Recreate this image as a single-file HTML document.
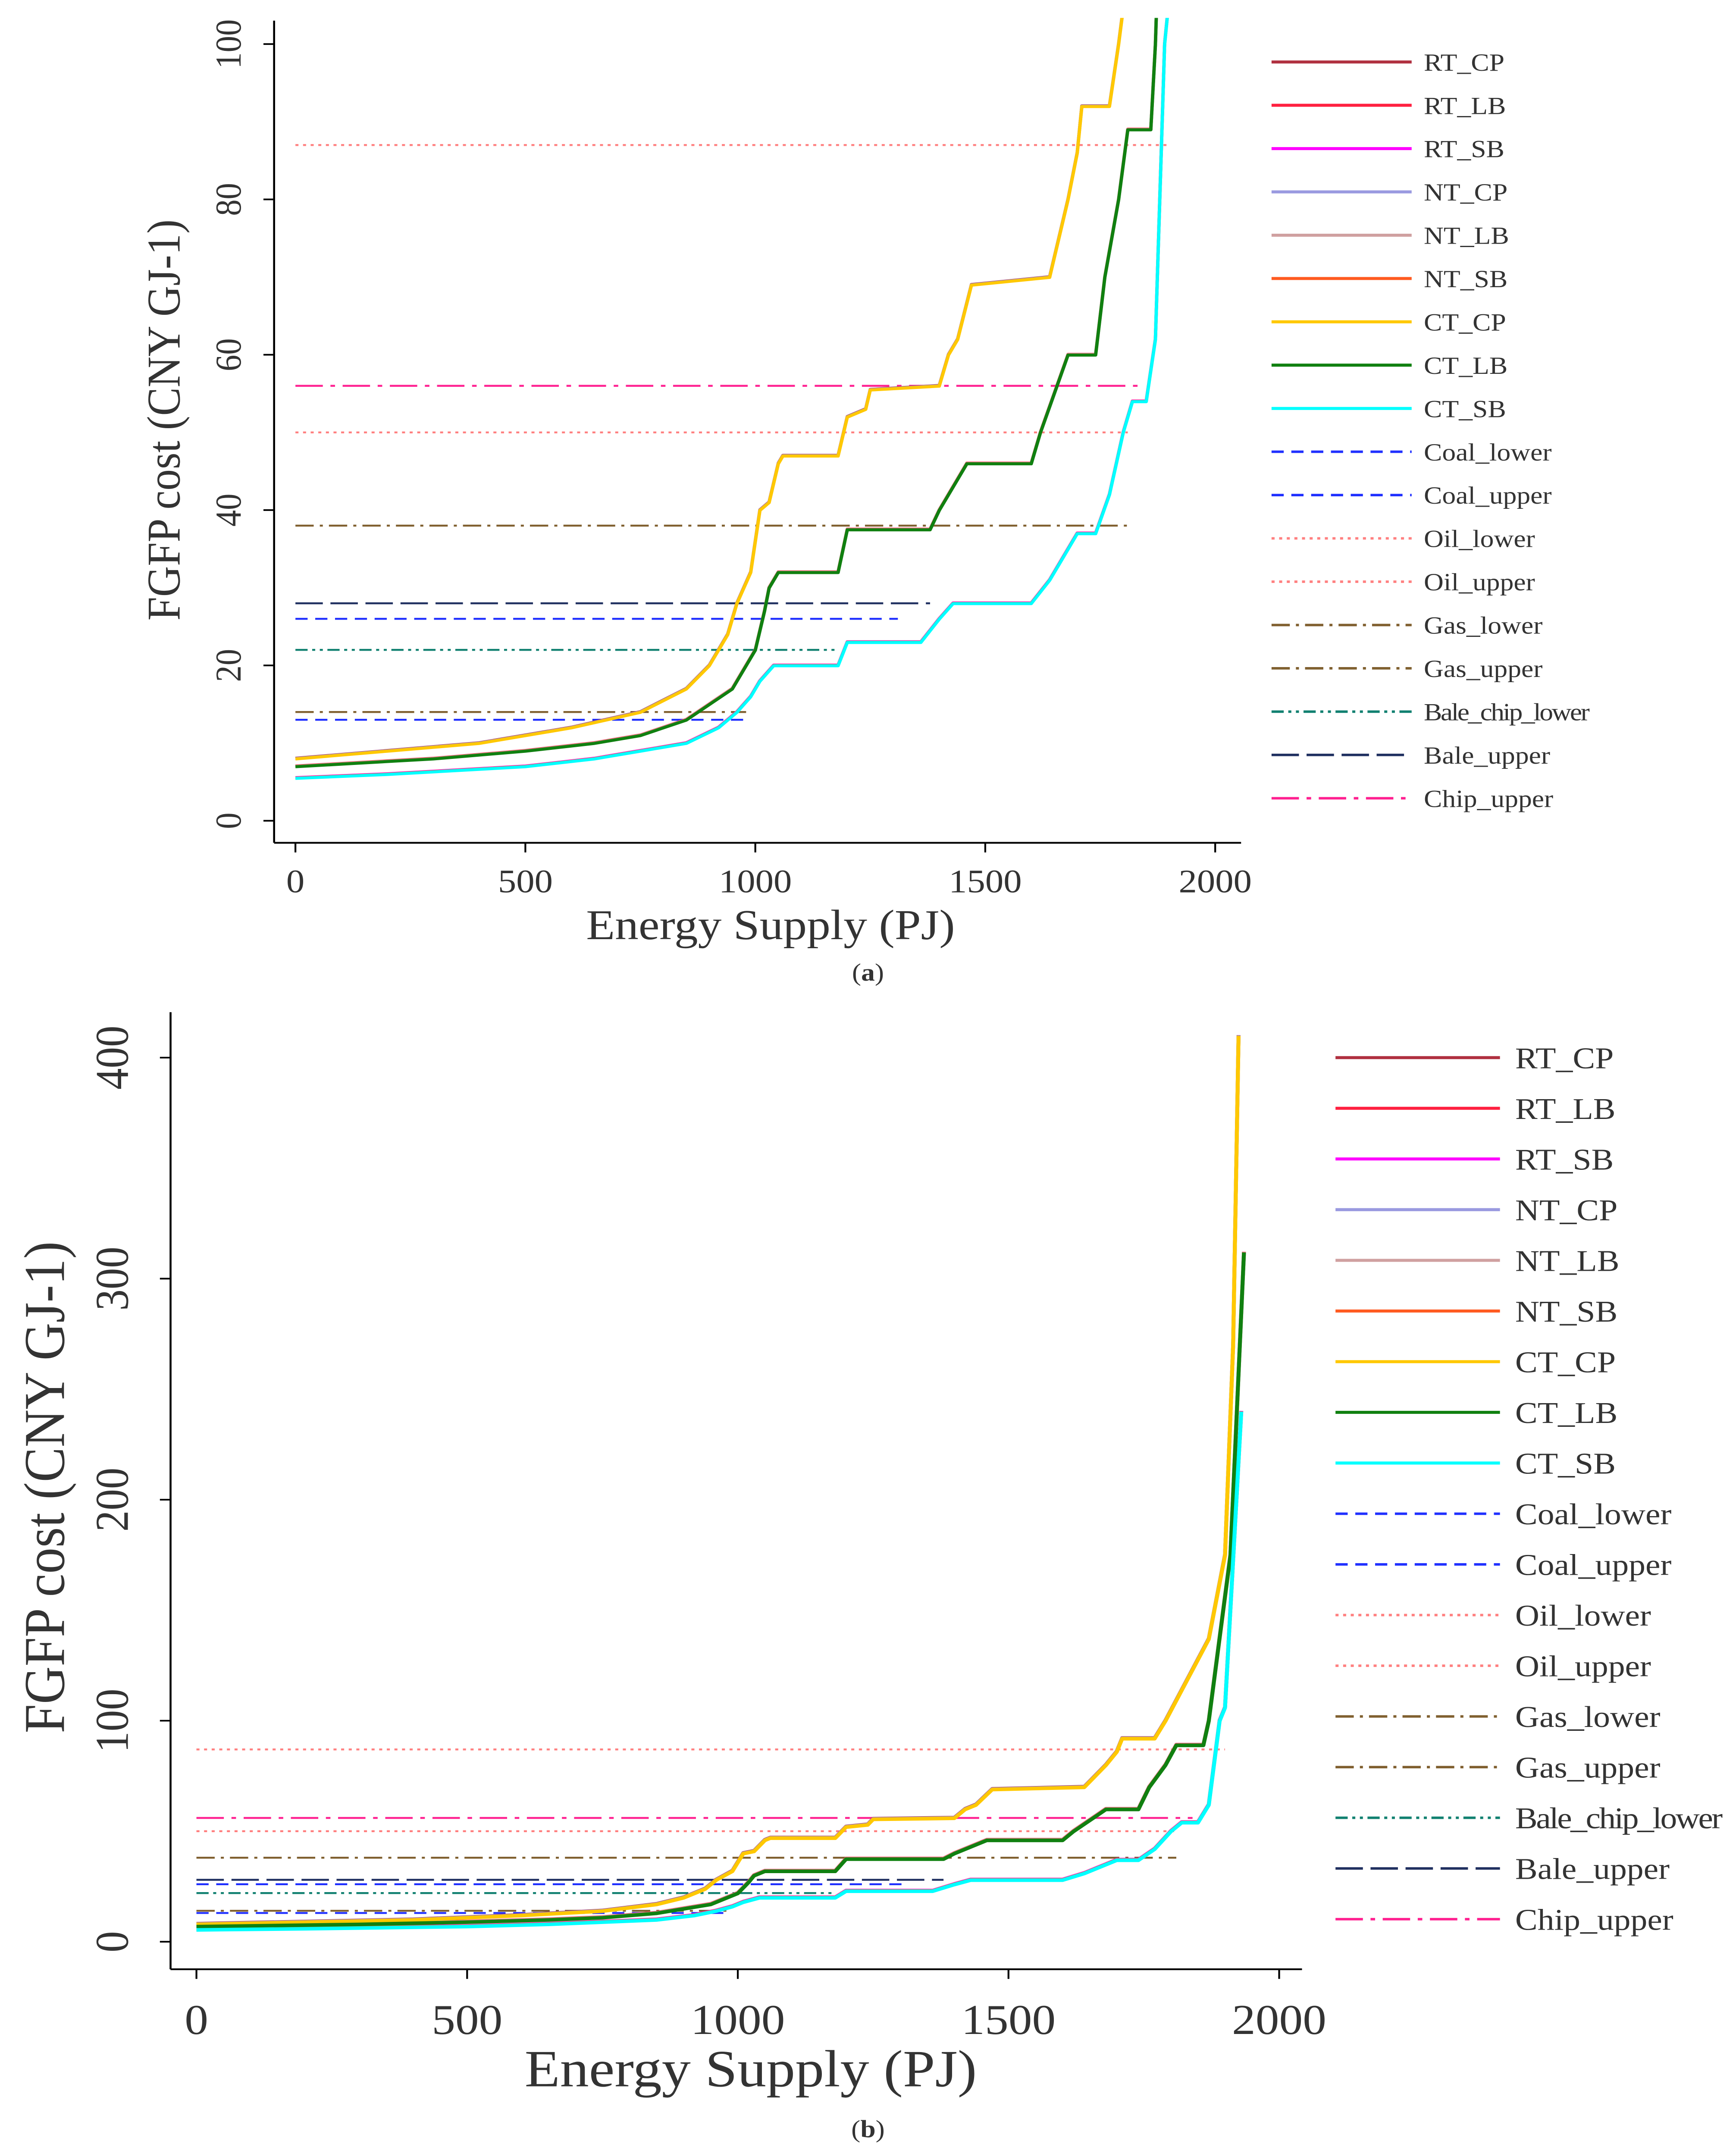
<!DOCTYPE html>
<html><head><meta charset="utf-8"><style>
html,body{margin:0;padding:0;background:#fff;width:100vw;height:100vh;overflow:hidden}
svg{display:block;position:absolute;left:0;top:0;width:100vw;height:100vh}
text{font-family:"Liberation Serif",serif;fill:#333}
</style></head><body>
<svg id="chart" viewBox="0 0 1140 1565.6" preserveAspectRatio="none" xmlns="http://www.w3.org/2000/svg"></svg>
<script>
// ---- data ----
const seriesNames = ["RT_CP","RT_LB","RT_SB","NT_CP","NT_LB","NT_SB","CT_CP","CT_LB","CT_SB"];
const cpX = [0,200,400,600,750,850,900,940,960,990,1010,1030,1050,1060,1180,1200,1240,1250,1400,1420,1440,1470,1640,1660,1680,1700,1710,1770,1790,1870,1900,1915,1925];
const cpY = [8,9,10,12,14,17,20,24,28,32,40,41,46,47,47,52,53,55.5,56,60,62,69,70,75,80,86,92,92,100,137,175,270,410];
const lbX = [0,300,500,650,750,850,950,1000,1020,1030,1050,1180,1200,1380,1400,1420,1460,1600,1620,1650,1680,1740,1760,1790,1810,1860,1870,1910,1935];
const lbY = [7,8,9,10,11,13,17,22,27,30,32,32,37.5,37.5,40,42,46,46,50,55,60,60,70,80,89,89,100,175,312];
const sbX = [0,200,500,650,750,850,920,960,990,1010,1040,1180,1200,1360,1400,1430,1600,1640,1680,1700,1740,1770,1800,1820,1850,1870,1890,1900,1930];
const sbY = [5.5,6,7,8,9,10,12,14,16,18,20,20,23,23,26,28,28,31,35,37,37,42,50,54,54,62,100,106,240];
const refNames = ["Coal_lower","Coal_upper","Oil_lower","Oil_upper","Gas_lower","Gas_upper","Bale_chip_lower","Bale_upper","Chip_upper"];
const refValues = [13,26,50,87,14,38,22,28,56];
const refEnds = [980,1310,1810,1900,980,1810,1180,1380,1840];
const xTicks = [0,500,1000,1500,2000];
const yTicksA = [0,20,40,60,80,100];
const yTicksB = [0,100,200,300,400];

const colors = ["#b03040","#ff2040","#ff00ff","#9a9ae0","#d0a0a0","#ff5a20","#ffc800","#108010","#00ffff"];
const refColors = ["#2030ff","#2030ff","#ff8080","#ff8080","#806030","#806030","#108070","#203060","#ff2090"];
const refDash = ["8,5","8,5","2,3","2,3","12,4,2,4","12,4,2,4","8,3,2,3,2,3","18,5","18,5,3,5"];
const curveSets = [[cpX,cpY],[lbX,lbY],[sbX,sbY]];
const seriesCurve = [0,1,2,0,1,2,0,1,2];

const NS="http://www.w3.org/2000/svg";
const svg=document.getElementById('chart');
function mk(tag,attrs,parent){const e=document.createElementNS(NS,tag);for(const k in attrs)e.setAttribute(k,attrs[k]);(parent||svg).appendChild(e);return e;}

const panels=[
 {id:'a',x0:194,x1:798,y0:596,y1:32,ymax:100,yT:yTicksA,axL:180,axTop:15,axB:612,axR:815,fs:24,tf:31,ylx:158,xly:648,
  ytx:118,yty:305,xtx:506,xty:682,cap:712,lgX0:835,lgX1:927,lgT:935,lgY:45,lgD:31.45,lgF:18,sw:2.2},
 {id:'b',x0:129,x1:840,y0:1410,y1:768,ymax:400,yT:yTicksB,axL:112,axTop:735,axB:1430,axR:855,fs:31,tf:38,ylx:84,xly:1477,
  ytx:42,yty:1080,xtx:493,xty:1515,cap:1552,lgX0:877,lgX1:985,lgT:995,lgY:768,lgD:36.8,lgF:22,sw:2.6}
];

panels.forEach(p=>{
 const g=mk('g',{});
 
 
 const sx=v=>p.x0+(p.x1-p.x0)*v/2000;
 const sy=v=>p.y0+(p.y1-p.y0)*v/p.ymax;
 const clip=mk('clipPath',{id:'clip'+p.id},g);
 mk('rect',{x:p.axL,y:p.axTop-2,width:p.axR-p.axL,height:p.axB-p.axTop+2},clip);
 const ya=mk('line',{x1:p.axL,y1:p.axTop,x2:p.axL,y2:p.axB,stroke:'#000','stroke-width':1.3},g);
 
 
 const xa=mk('line',{x1:p.axL,y1:p.axB,x2:p.axR,y2:p.axB,stroke:'#000','stroke-width':1.3},g);
 
 
 p.yT.forEach(v=>{
  mk('line',{x1:p.axL-7,y1:sy(v),x2:p.axL,y2:sy(v),stroke:'#000','stroke-width':1.2},g);
  const t=mk('text',{x:p.ylx,y:sy(v),'font-size':p.fs,'text-anchor':'middle',transform:`rotate(-90 ${p.ylx} ${sy(v)})`},g);
  t.textContent=v;
  
  
 });
 xTicks.forEach(v=>{
  mk('line',{x1:sx(v),y1:p.axB,x2:sx(v),y2:p.axB+7,stroke:'#000','stroke-width':1.2},g);
  const t=mk('text',{x:sx(v),y:p.xly,'font-size':p.fs,'text-anchor':'middle'},g);
  t.textContent=v;
  
  
 });
 const yt=mk('text',{x:p.ytx,y:p.yty,'font-size':p.tf,'text-anchor':'middle',transform:`rotate(-90 ${p.ytx} ${p.yty})`},g);
 yt.textContent='FGFP cost (CNY GJ-1)';
 
 
 const xt=mk('text',{x:p.xtx,y:p.xty,'font-size':p.tf,'text-anchor':'middle'},g);
 xt.textContent='Energy Supply (PJ)';
 
 
 const cp=mk('text',{x:570,y:p.cap,'font-size':18,'text-anchor':'middle',fill:'#000'},g);
 cp.innerHTML='(<tspan font-weight="bold">'+p.id+'</tspan>)';
 
 
 const plot=mk('g',{'clip-path':`url(#clip${p.id})`},g);
 refValues.forEach((v,i)=>{
  const l=mk('line',{x1:sx(0),y1:sy(v),x2:sx(refEnds[i]),y2:sy(v),stroke:refColors[i],'stroke-width':1.4,'stroke-dasharray':refDash[i]},plot);
  
  
 });
 seriesNames.forEach((n,i)=>{
  const [xs,ys]=curveSets[seriesCurve[i]];
  const off=(Math.floor(i/3)-1)*0.25;
  const pts=xs.map((x,k)=>`${sx(x)},${sy(ys[k])+off}`).join(' ');
  const pl=mk('polyline',{points:pts,fill:'none',stroke:colors[i],'stroke-width':p.sw,'stroke-linejoin':'round'},plot);
  
  
 });
 const allNames=seriesNames.concat(refNames);
 allNames.forEach((n,i)=>{
  const y=p.lgY+i*p.lgD;
  const isRef=i>=9;
  const l=mk('line',{x1:p.lgX0,y1:y,x2:p.lgX1,y2:y,stroke:isRef?refColors[i-9]:colors[i],'stroke-width':isRef?1.8:2.2},g);
  if(isRef)l.setAttribute('stroke-dasharray',refDash[i-9]);
  
  
  const t=mk('text',{x:p.lgT,y:y+p.lgF*0.35,'font-size':p.lgF},g);
  if(n==='Bale_chip_lower')t.setAttribute('letter-spacing','-1');
  t.textContent=n;
  
  
 });
});
</script>
</body></html>
